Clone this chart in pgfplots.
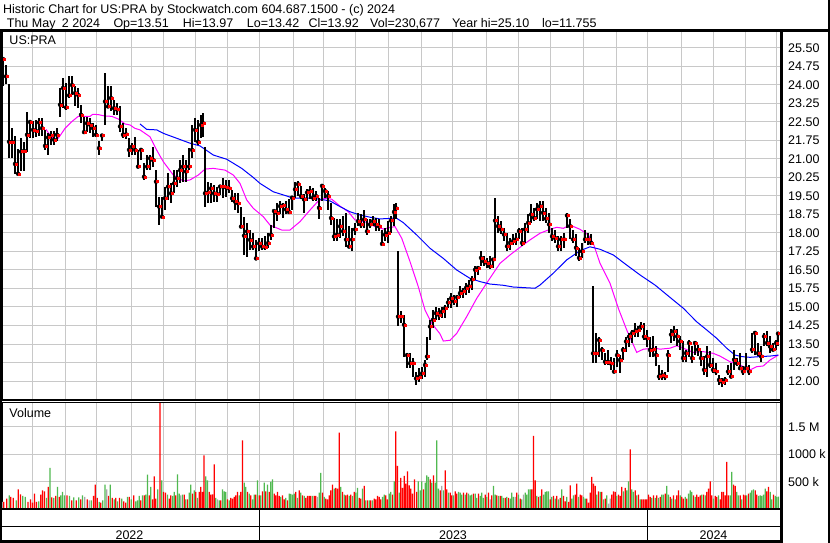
\documentclass[border=0pt]{standalone}
\usepackage{pgfplots}
\pgfplotsset{compat=1.18}
\usepackage{pgfplotstable}
\usepackage{fontspec}
\setmainfont{Liberation Sans}
\definecolor{gridgray}{RGB}{200,200,200}
\definecolor{vgreen}{RGB}{80,185,80}
\definecolor{vred}{RGB}{255,0,0}
\definecolor{vgray}{RGB}{168,168,168}
\definecolor{mamag}{RGB}{255,0,255}
\definecolor{mablue}{RGB}{0,0,255}
\newcommand{\lab}{\fontsize{12.5bp}{14bp}\selectfont}

\pgfplotstableread{
x l h c
3 23.95 25.10 25.05
6 24.05 24.80 24.35
9 21.05 24.05 21.70
12 21.05 22.25 21.70
15 20.40 21.95 20.80
18 20.35 21.40 20.40
21 20.50 21.85 21.30
24 20.50 21.70 21.33
27 21.30 22.90 21.98
30 21.85 22.55 22.50
33 21.85 22.55 22.18
36 21.90 22.60 22.14
39 21.95 22.65 22.48
42 21.95 22.65 22.25
45 21.37 22.18 21.53
48 21.17 22.05 21.87
51 21.57 22.14 21.95
54 21.57 22.14 21.78
57 21.71 22.25 21.98
60 22.72 23.88 23.20
63 23.06 24.28 23.88
66 23.00 24.10 23.09
69 23.47 24.35 23.58
72 23.60 24.35 24.00
75 23.13 23.94 23.67
78 23.06 23.88 23.60
81 22.45 23.20 22.79
84 22.05 22.72 22.09
87 22.11 22.72 22.45
90 22.05 22.65 22.39
93 21.91 22.45 22.25
96 21.91 22.39 21.98
99 21.17 21.71 21.44
102 21.71 21.98 21.95
105 22.39 24.48 23.33
108 23.13 23.94 23.13
111 22.93 23.94 23.47
114 22.79 23.40 23.06
117 22.79 23.27 23.00
120 22.11 23.13 22.32
123 21.84 22.45 21.98
126 21.80 22.25 22.00
129 21.10 21.84 21.37
132 21.17 21.64 21.50
135 21.16 21.91 21.37
138 20.62 21.37 20.69
141 20.96 21.43 21.37
144 20.15 20.82 20.28
147 20.55 21.16 20.69
150 20.55 21.16 21.03
153 20.69 21.50 20.96
156 19.07 20.55 20.08
159 18.33 19.47 19.07
162 18.66 19.47 18.66
165 18.93 19.88 19.41
168 19.34 20.42 19.88
171 19.20 20.01 19.61
174 19.61 20.55 20.01
177 19.88 20.55 20.22
180 20.01 20.96 20.55
183 20.08 21.16 20.69
186 20.08 20.96 20.49
189 20.55 21.43 20.69
192 21.03 22.38 21.37
195 21.70 22.65 22.18
198 21.57 22.58 21.70
201 21.84 22.78 22.38
203 21.90 22.85 22.45
205 19.07 21.50 19.61
208 19.20 20.08 19.64
211 19.20 20.01 19.81
214 19.27 19.95 19.61
217 19.27 19.88 19.58
220 19.54 19.95 19.88
223 19.41 20.22 19.88
226 19.47 20.15 19.85
229 19.61 20.15 19.81
232 19.27 19.74 19.41
235 18.93 19.61 19.27
238 18.80 19.61 19.20
241 18.26 19.07 18.26
244 17.11 18.66 17.89
247 17.04 18.39 18.06
250 17.31 18.14 17.72
253 17.31 17.99 17.45
256 16.97 17.72 16.97
259 17.25 17.79 17.58
262 17.32 17.80 17.45
265 17.32 17.86 17.43
268 17.39 18.00 17.59
271 17.73 18.34 17.93
274 18.20 18.95 18.89
277 18.48 19.23 18.82
280 18.75 19.30 19.09
283 18.61 19.23 19.12
286 18.75 19.30 18.95
289 18.82 19.36 18.85
292 18.95 19.50 19.43
295 19.43 20.05 19.77
298 19.50 20.11 19.98
301 19.36 19.91 19.50
304 18.82 19.57 19.36
307 19.30 19.77 19.64
310 19.36 19.91 19.70
313 19.30 19.84 19.43
316 19.30 19.70 19.50
319 18.55 19.43 19.02
322 19.30 19.98 19.91
325 19.43 19.84 19.70
328 18.95 19.70 19.50
331 18.34 19.23 18.61
334 17.66 18.61 17.86
337 17.66 18.55 17.93
340 17.80 18.55 18.27
343 17.86 18.68 18.07
346 17.45 18.82 17.73
349 17.39 18.27 17.45
352 17.25 18.20 17.73
355 17.93 18.41 18.14
358 18.27 18.82 18.48
361 18.20 18.75 18.34
364 18.20 18.95 18.55
367 17.93 18.55 18.07
370 18.20 18.55 18.34
373 18.27 18.68 18.48
376 18.07 18.61 18.34
379 18.07 18.55 18.27
382 17.52 18.14 17.56
385 17.66 18.20 17.93
388 17.59 18.48 18.00
391 18.00 18.70 18.50
394 18.28 19.16 18.85
396 18.55 19.20 19.00
398 14.21 17.26 14.61
401 14.34 14.82 14.61
404 12.99 14.68 14.28
407 12.51 13.12 13.05
410 12.51 13.12 12.72
413 12.17 12.92 12.72
416 11.83 12.38 12.10
419 11.97 12.51 12.17
422 12.10 12.58 12.31
425 12.17 12.85 12.65
427 12.85 13.80 12.99
430 13.66 14.48 14.21
433 14.14 14.89 14.48
436 14.48 15.02 14.75
439 14.48 14.95 14.68
442 14.55 15.02 14.82
445 14.55 15.09 14.95
448 14.95 15.36 15.18
451 14.95 15.56 15.36
454 15.09 15.50 15.23
457 15.02 15.50 15.40
460 15.36 15.84 15.56
463 15.36 15.77 15.63
466 15.50 15.97 15.77
469 15.56 16.11 15.84
472 15.70 16.24 16.11
475 16.11 16.65 16.51
478 16.31 16.65 16.58
481 16.65 17.26 16.99
484 16.65 17.06 16.85
487 16.58 16.99 16.79
490 16.55 17.06 16.65
493 16.60 16.99 16.92
495 16.95 19.43 18.50
498 18.01 18.69 18.28
501 17.94 18.48 18.14
504 17.67 18.21 17.94
507 17.26 18.01 17.46
510 17.33 17.80 17.60
513 17.53 17.94 17.67
516 17.53 18.01 17.74
519 17.74 18.21 18.08
522 17.46 18.20 17.60
525 17.60 18.41 18.14
528 18.00 18.75 18.41
531 18.41 19.16 18.75
534 18.48 19.02 18.62
537 18.55 19.23 18.96
540 18.48 19.30 19.09
543 18.48 19.30 18.82
546 18.41 19.02 18.58
549 18.00 18.82 18.35
552 17.67 18.21 17.87
555 17.60 18.14 17.80
558 17.26 17.87 17.46
561 17.26 17.87 17.74
564 17.40 18.00 17.74
567 18.21 18.82 18.71
570 17.74 18.55 18.28
573 17.60 18.14 17.74
576 17.06 17.94 17.40
579 16.85 17.40 16.99
582 16.99 17.60 17.26
585 17.60 18.14 17.74
588 17.53 18.00 17.74
591 17.53 17.94 17.60
593 12.71 15.84 13.12
596 12.71 13.94 13.12
599 12.99 13.80 13.66
602 12.85 13.39 13.26
605 12.65 13.12 12.78
608 12.65 13.26 12.78
611 12.44 12.99 12.71
614 12.31 12.92 12.38
617 12.58 13.26 13.05
620 12.31 13.05 12.85
623 12.85 13.39 13.26
626 13.19 13.80 13.60
629 13.39 13.94 13.80
632 13.53 14.07 13.94
635 13.80 14.34 14.01
638 13.80 14.21 14.07
641 14.07 14.41 14.21
644 13.66 14.34 13.80
647 13.39 14.07 13.73
650 12.99 13.80 13.26
653 12.99 13.81 13.27
656 12.59 13.40 13.06
659 12.04 12.65 12.18
662 12.04 12.45 12.24
665 12.04 12.38 12.18
668 12.38 13.27 13.06
671 13.54 14.09 13.88
674 13.61 14.22 14.02
677 13.40 14.09 13.81
680 13.27 13.81 13.61
683 12.79 13.61 12.93
686 12.79 13.27 13.13
689 12.99 13.68 13.54
692 12.72 13.40 12.93
695 13.06 13.61 13.54
698 13.00 13.47 13.27
701 12.59 13.20 12.93
704 12.24 13.00 12.45
707 12.18 13.40 13.00
710 12.52 13.20 12.65
713 12.31 12.93 12.45
716 12.24 12.72 12.38
719 11.84 12.24 12.04
722 11.74 12.11 11.97
725 11.84 12.18 12.04
728 12.24 12.65 12.38
731 12.11 12.72 12.18
734 12.45 13.27 12.86
737 12.59 12.93 12.72
740 12.45 13.13 12.52
743 12.24 12.59 12.38
746 12.45 13.13 12.52
749 12.24 12.65 12.38
752 13.13 13.95 13.27
755 13.06 14.02 13.95
758 13.00 13.54 13.13
761 12.79 13.40 13.00
764 13.40 13.95 13.81
767 13.40 14.02 13.54
770 13.13 13.81 13.40
773 13.20 13.54 13.27
776 13.27 13.68 13.54
778 13.42 13.97 13.92
}\ohlc

\pgfplotstableread{
x p
46 22.20
50 21.97
56 21.73
60 21.94
65 22.24
71.7 22.51
78.3 22.73
90 22.73
92.7 22.81
98.3 22.80
105 22.74
111.7 22.73
118.3 22.62
125 22.42
130 22.38
135 22.24
140 22.18
150 21.90
156.7 21.36
163.3 20.89
173.3 20.35
183.3 20.11
190 20.15
198.3 20.35
205 20.59
213.3 20.62
225 20.55
233.3 20.35
240 20.01
246.7 19.34
253.3 19.00
263.3 18.66
270 18.32
281.7 18.12
290 18.12
300 18.46
310 18.93
318.3 19.30
325 19.41
331.7 19.37
340 19.09
348.3 18.86
355 18.53
366.7 18.43
375 18.26
383.3 18.16
390 18.22
395 18.26
401.7 17.79
410 16.84
418.3 15.82
425 14.88
431.7 14.34
440 13.91
443.3 13.62
450 13.65
456.7 13.93
466.7 14.61
476.7 15.35
483.3 15.76
493.3 16.37
500 16.77
510 17.11
520 17.42
530 17.72
540 17.99
550 18.15
556.7 18.23
563.3 18.19
570 18.32
580 18.15
588.3 17.92
593.3 17.58
600 16.77
610 15.96
618.3 14.95
626.7 14.07
636.7 13.16
643.3 13.29
655 13.33
660 13.29
670 13.33
676.7 13.43
683.3 13.33
693.3 13.16
703.3 13.19
713.3 13.12
720 13.01
730 12.78
740 12.65
750 12.45
756.7 12.58
763.3 12.61
770 12.85
778.3 13.05
}\mamag

\pgfplotstableread{
x p
140 22.42
146.7 22.20
156.7 22.18
163.3 22.04
176.7 21.84
190 21.64
200 21.53
213.3 21.16
226.7 20.99
241.7 20.62
253.3 20.25
260 20.01
273.3 19.67
286.7 19.50
293.3 19.41
310 19.41
320 19.37
330 19.30
340 19.07
350 18.86
360 18.73
370 18.64
380 18.57
393.3 18.60
395 18.64
403.3 18.42
416.7 17.92
430 17.38
443.3 16.97
456.7 16.50
470 16.16
480 16.03
490 15.93
503.3 15.88
513.3 15.81
535 15.76
540 15.89
553.3 16.37
566.7 16.91
580 17.28
590 17.44
600 17.34
613.3 17.11
626.7 16.70
640 16.30
655 15.89
673.3 15.28
683.3 14.95
696.7 14.40
706.7 14.07
716.7 13.73
726.7 13.33
735 13.05
741.7 12.99
750 12.96
760 12.99
770 13.01
778.3 13.05
}\mablue

\pgfplotstableread{
x v
3.8 133
6.7 194
10.8 224
13.3 206
18.3 364
20.5 273
28.0 133
30.5 182
32.5 121
34.5 285
36.5 133
40.8 267
42.5 345
44.5 327
48.3 406
51.7 218
55.8 242
59.2 224
67.0 255
71.7 164
76.2 164
80.8 182
87.2 182
93.5 242
95.2 448
97.2 206
100.8 121
108.5 242
112.2 206
115.8 206
119.5 206
123.8 145
125.8 121
129.2 224
133.8 255
140.8 164
144.2 255
149.2 255
152.5 182
154.2 600
155.8 194
160.0 2000
163.5 315
165.5 303
169.2 194
170.8 255
175.8 255
184.2 267
187.5 182
192.5 285
195.8 315
199.2 315
200.8 406
202.5 315
204.0 982
209.2 315
210.8 267
212.5 273
214.2 818
220.8 164
227.5 182
230.8 206
232.5 194
234.2 224
235.8 255
237.5 315
240.8 315
242.5 1254
247.5 315
250.8 255
255.8 267
259.2 255
262.5 327
265.8 327
269.2 315
274.2 285
275.8 255
277.5 315
279.2 242
282.5 255
284.2 182
287.5 164
295.8 315
299.2 345
302.5 255
305.8 206
307.5 242
309.2 242
310.8 242
314.2 242
315.8 242
322.5 303
325.8 194
327.5 182
329.2 255
330.8 345
332.5 448
335.8 388
337.5 376
339.2 1394
342.5 315
345.8 255
347.5 267
350.8 267
354.2 315
359.2 206
360.8 194
364.2 424
367.5 164
370.8 164
374.2 194
375.8 182
377.5 242
379.2 224
380.8 182
385.8 255
387.5 182
392.5 267
395.8 1418
397.5 788
400.8 570
402.5 388
404.2 606
405.8 467
407.5 690
409.2 436
410.8 376
412.5 285
414.5 545
416.7 315
423.5 364
430.2 545
433.5 618
440.2 345
445.2 709
446.8 364
450.2 303
451.8 255
455.2 327
456.8 285
463.5 303
466.8 303
473.5 285
478.5 285
485.2 267
488.5 303
491.8 255
496.8 255
500.2 242
505.2 206
508.5 206
516.8 303
520.2 194
531.8 364
533.5 1333
535.2 527
538.5 224
541.8 364
550.2 182
553.5 242
556.8 242
560.2 206
563.5 242
565.2 145
568.5 133
570.2 436
575.2 267
576.8 467
580.2 267
581.8 255
586.8 194
588.5 121
590.2 303
591.8 588
593.5 467
595.2 424
598.5 327
601.8 315
605.2 194
611.8 267
613.5 327
615.2 315
618.5 267
620.2 242
621.8 406
625.2 388
630.2 1091
635.2 345
638.5 267
641.8 182
643.5 182
645.2 182
646.8 182
648.5 267
650.2 224
653.5 255
656.8 255
660.2 224
665.2 285
670.2 224
673.5 255
676.8 255
678.5 345
681.8 224
683.5 194
686.8 194
693.5 255
696.8 267
698.5 224
700.2 255
703.5 267
706.8 315
708.5 376
710.2 509
711.8 255
715.2 242
716.8 224
720.2 182
721.8 315
723.5 315
725.2 255
726.8 860
728.5 255
733.5 448
735.2 424
740.2 255
743.5 267
745.2 255
748.5 285
755.2 345
756.8 267
766.8 327
768.5 406
773.5 267
}\volred

\pgfplotstableread{
x v
9.2 255
16.2 164
22.8 242
25.3 224
38.7 145
46.5 206
50.0 751
53.8 206
57.5 406
60.8 255
62.5 315
64.5 255
69.5 242
73.8 218
78.7 218
82.5 255
91.3 164
99.2 133
102.8 164
105.0 448
110.2 448
114.2 182
117.5 145
121.7 194
127.5 224
131.3 182
135.8 145
137.5 164
139.2 242
142.5 255
145.8 267
147.5 630
150.8 406
157.8 364
161.8 527
167.5 267
172.5 242
174.2 315
177.5 636
179.2 285
182.5 267
185.8 182
189.2 303
190.8 448
194.2 345
197.5 206
205.7 600
207.5 527
215.8 206
219.2 164
222.5 364
224.2 327
225.8 315
229.2 164
239.2 255
244.2 485
245.8 406
249.2 285
252.5 182
254.2 267
257.5 527
260.8 255
264.2 485
267.5 448
270.8 497
272.5 545
280.8 224
285.8 206
289.2 285
290.8 279
292.5 267
294.2 285
297.5 206
300.8 303
304.2 242
312.5 242
319.2 303
320.8 660
324.2 224
334.2 376
340.8 406
344.2 267
349.2 242
352.5 242
355.8 303
357.5 388
362.5 376
365.8 164
369.2 164
372.5 164
382.5 224
384.2 267
389.2 285
390.8 315
394.2 509
399.2 303
418.3 509
420.2 345
421.8 509
425.2 485
426.8 618
428.5 588
431.8 485
435.2 485
436.8 1254
438.5 376
443.5 345
448.5 303
453.5 255
458.5 315
460.2 303
461.8 267
465.2 267
468.5 285
470.2 255
471.8 267
475.2 285
476.8 206
480.2 242
481.8 303
483.5 206
486.8 224
493.5 424
495.2 267
498.5 242
501.8 242
503.5 206
506.8 224
510.2 194
511.8 303
513.5 224
518.5 267
521.8 182
525.2 303
526.8 267
528.5 364
530.2 364
536.8 242
540.2 242
543.5 267
545.2 315
546.8 327
548.5 327
551.8 224
555.2 194
558.5 182
561.8 364
566.8 224
571.8 194
573.5 255
578.5 224
583.5 224
585.2 194
596.8 267
600.2 315
603.5 182
606.8 255
616.8 242
623.5 327
626.8 345
628.5 509
631.8 364
633.5 315
636.8 255
640.2 182
651.8 206
655.2 206
658.5 206
661.8 267
663.5 267
666.8 424
668.5 267
671.8 194
675.2 182
680.2 255
685.2 224
688.5 285
690.2 345
691.8 315
695.2 224
701.8 267
705.2 255
713.5 194
718.5 255
730.2 255
731.8 679
736.8 315
738.5 255
741.8 182
746.8 255
750.2 303
751.8 345
753.5 364
758.5 242
760.2 255
761.8 242
763.5 267
765.2 376
770.2 315
771.8 182
775.2 242
776.8 224
778.5 231
}\volgreen

\pgfplotstableread{
x v
2.3 133
84.7 224
89.2 164
106.8 364
180.8 255
217.5 182
317.5 224
441.8 424
490.2 182
515.2 224
523.5 267
608.5 103
610.2 194
}\volgray

\pgfplotsset{
  swpanel/.style={
    scale only axis, anchor=south west,
    xmin=2, xmax=780,
    axis line style={line width=1bp},
    xtick={32.3,65,96.7,131.7,163.3,195,227.3,259.3,293.3,323.3,355.5,388,421.7,452.7,486,518.3,550,583.3,616.3,647.3,681.7,713.3,745,776.7},
    xticklabels={},
    major tick length=0pt,
    yticklabel pos=right,
    yticklabel style={font=\lab, anchor=west, inner sep=0pt, xshift=8bp},
    grid=major,
    major grid style={draw=gridgray, line width=1bp},
  }
}

\begin{document}
\begin{tikzpicture}
\useasboundingbox (0,0) rectangle (830bp,543bp);
\fill[white] (0,0) rectangle (830bp,543bp);

% price panel
\begin{axis}[swpanel,
  at={(2bp,143bp)}, width=778bp, height=368bp,
  ymin=11.230, ymax=26.148,
  ytick={12,12.75,13.5,14.25,15,15.75,16.5,17.25,18,18.75,19.5,20.25,21,21.75,22.5,23.25,24,24.75,25.5},
  yticklabels={12.00,12.75,13.50,14.25,15.00,15.75,16.50,17.25,18.00,18.75,19.50,20.25,21.00,21.75,22.50,23.25,24.00,24.75,25.50},
]
\addplot[mamag, line width=1bp] table[x=x,y=p] \mamag;
\addplot[mablue, line width=1bp] table[x=x,y=p] \mablue;
\addplot[black, only marks, mark=none,
  error bars/.cd, y dir=both, y explicit, error mark=none,
  error bar style={line width=1.4bp, black, line cap=butt}]
  table[x=x, y=c, y error plus expr={\thisrow{h}-\thisrow{c}}, y error minus expr={\thisrow{c}-\thisrow{l}}] \ohlc;
\addplot[vred, only marks, mark=square*, mark size=1bp,
  mark options={draw=none, fill=vred, xshift=1.2bp}] table[x=x, y=c] \ohlc;
\end{axis}

% volume panel
\begin{axis}[swpanel,
  at={(2bp,33.7bp)}, width=778bp, height=107bp,
  ymin=0, ymax=1945,
  ytick={500,1000,1500},
  yticklabels={500 k,1000 k,1.5 M},
]
\addplot[ybar, bar width=1.3, bar shift=0pt, fill=vred, draw=none] table[x=x,y=v] \volred;
\addplot[ybar, bar width=1.3, bar shift=0pt, fill=vgreen, draw=none] table[x=x,y=v] \volgreen;
\addplot[ybar, bar width=1.3, bar shift=0pt, fill=vgray, draw=none] table[x=x,y=v] \volgray;
\end{axis}

% frame lines
\draw[line width=2.5bp] (0,512.3bp) -- (830bp,512.3bp);
\draw[line width=2bp] (1bp,512bp) -- (1bp,0);
\draw[line width=2.5bp] (781.5bp,512bp) -- (781.5bp,0);
\draw[line width=1.2bp] (0,143bp) -- (781bp,143bp);
\draw[line width=1.2bp] (0,140.7bp) -- (781bp,140.7bp);
\draw[line width=2bp] (0,33.7bp) -- (781bp,33.7bp);
\draw[line width=1.5bp] (0,16.3bp) -- (781bp,16.3bp);
\draw[line width=2.5bp] (0,1.3bp) -- (781bp,1.3bp);
\draw[line width=1.5bp] (259.3bp,33.7bp) -- (259.3bp,1.3bp);
\draw[line width=1.5bp] (647.3bp,33.7bp) -- (647.3bp,1.3bp);
\draw[line width=1.5bp] (829.2bp,0) -- (829.2bp,543bp);

% texts
\node[anchor=base west, inner sep=0pt, font=\lab] at (3bp,529.6bp) {Historic Chart for US:PRA by Stockwatch.com 604.687.1500 - (c) 2024};
\node[anchor=base west, inner sep=0pt, font=\lab] at (6.7bp,515.8bp) {Thu May};
\node[anchor=base west, inner sep=0pt, font=\lab] at (61.7bp,515.8bp) {2 2024};
\node[anchor=base west, inner sep=0pt, font=\lab] at (113.3bp,515.8bp) {Op=13.51};
\node[anchor=base west, inner sep=0pt, font=\lab] at (182.7bp,515.8bp) {Hi=13.97};
\node[anchor=base west, inner sep=0pt, font=\lab] at (246.7bp,515.8bp) {Lo=13.42};
\node[anchor=base west, inner sep=0pt, font=\lab] at (308.3bp,515.8bp) {Cl=13.92};
\node[anchor=base west, inner sep=0pt, font=\lab] at (370bp,515.8bp) {Vol=230,677};
\node[anchor=base west, inner sep=0pt, font=\lab] at (452bp,515.8bp) {Year hi=25.10};
\node[anchor=base west, inner sep=0pt, font=\lab] at (542bp,515.8bp) {lo=11.755};
\node[anchor=base west, inner sep=0pt, font=\lab] at (9.3bp,498bp) {US:PRA};
\node[anchor=base west, inner sep=0pt, font=\lab] at (9.3bp,125bp) {Volume};
\node[anchor=base, inner sep=0pt, font=\lab] at (129.5bp,3.6bp) {2022};
\node[anchor=base, inner sep=0pt, font=\lab] at (453bp,3.6bp) {2023};
\node[anchor=base, inner sep=0pt, font=\lab] at (713.5bp,3.6bp) {2024};
\end{tikzpicture}
\end{document}
